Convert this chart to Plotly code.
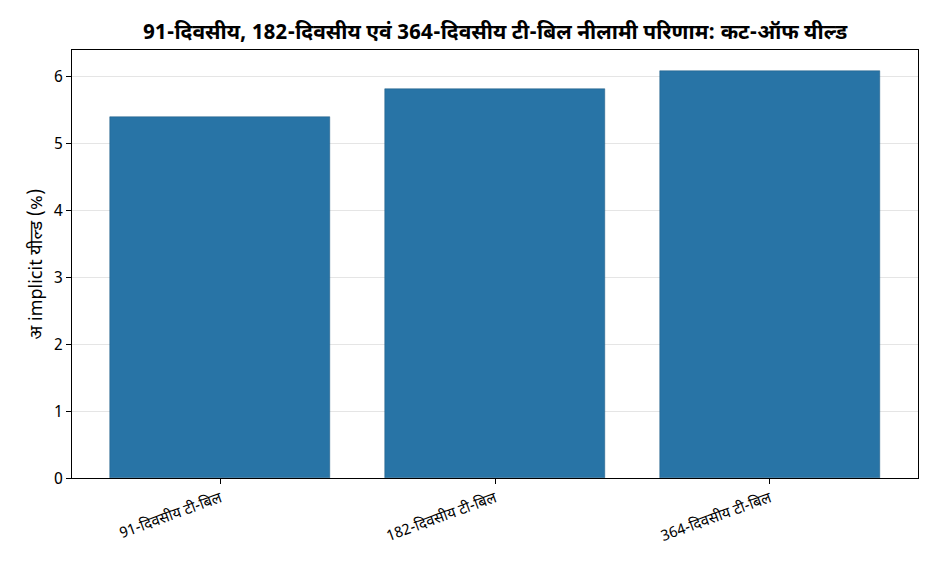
import plotly.graph_objects as go

# Cut-off yields (%)
categories = ['91-दिवसीय टी-बिल', '182-दिवसीय टी-बिल', '364-दिवसीय टी-बिल']
yields = [5.40, 5.81, 6.09]
y_ticks = [0, 1, 2, 3, 4, 5, 6]

title = '91-दिवसीय, 182-दिवसीय एवं 364-दिवसीय टी-बिल नीलामी परिणाम: कट-ऑफ यील्ड'
y_label = 'अ implicit यील्ड (%)'

fig = go.Figure()
fig.add_trace(go.Bar(
    x=list(range(len(categories))),
    y=yields,
    width=0.8,
    marker=dict(color='#2874a6', line=dict(color='#1d5a82', width=0.5)),
    hoverinfo='y',
))

# page body has an 8px offset, margins compensate for it
fig.update_layout(
    width=936, height=572,
    margin=dict(l=64, r=26, t=42, b=102),
    paper_bgcolor='white', plot_bgcolor='white',
    font=dict(family='Noto Sans Devanagari, Noto Sans', color='black'),
    title=dict(text='<b>' + title + '</b>', x=0.5, xanchor='center', xref='paper',
               y=1 - 24 / 572, yanchor='middle', font=dict(size=21)),
    showlegend=False,
    bargap=0,
)

fig.update_xaxes(
    range=[-0.54, 2.54],
    tickvals=list(range(len(categories))),
    ticktext=categories,
    tickangle=-20,
    tickfont=dict(size=15),
    ticks='outside', ticklen=5, tickcolor='black',
    showline=True, linecolor='black', linewidth=1, mirror=True,
    showgrid=False, zeroline=False,
)

fig.update_yaxes(
    range=[0, 6.4],
    tickvals=y_ticks,
    tickfont=dict(size=16),
    ticks='outside', ticklen=5, tickcolor='black',
    showline=True, linecolor='black', linewidth=1, mirror=True,
    showgrid=True, gridcolor='rgba(0,0,0,0.1)', gridwidth=1,
    zeroline=False,
    layer='above traces',
    title=dict(text=y_label, font=dict(size=18), standoff=6),
)

fig.write_html('out.html')
